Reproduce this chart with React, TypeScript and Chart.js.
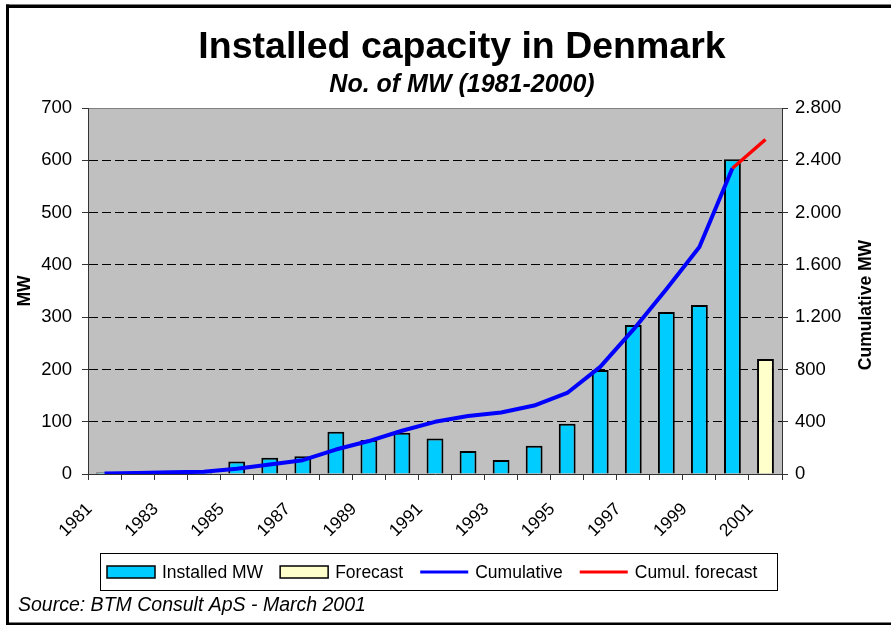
import React, { useEffect, useRef } from "react";
import { Chart, registerables } from "chart.js";

Chart.register(...registerables);

const years = ["1981", "1982", "1983", "1984", "1985", "1986", "1987", "1988", "1989", "1990", "1991", "1992", "1993", "1994", "1995", "1996", "1997", "1998", "1999", "2000", "2001"];
const installedMW = [3, 5, 5, 4, 24, 31, 34, 81, 65, 79, 68, 44, 27, 54, 96, 199, 285, 310, 323, 602, null];
const forecastMW = [null, null, null, null, null, null, null, null, null, null, null, null, null, null, null, null, null, null, null, null, 220];
const cumulativeMW = [3, 8, 13, 17, 41, 72, 106, 187, 252, 331, 399, 443, 470, 524, 620, 819, 1104, 1414, 1737, 2339, null];
const cumulForecastMW = [null, null, null, null, null, null, null, null, null, null, null, null, null, null, null, null, null, null, null, 2339, 2559];
const leftAxisMax = 700;
const leftAxisStep = 100;
const rightAxisMax = 2800;
const rightAxisStep = 400;

const titleText = "Installed capacity in Denmark";
const subtitleText = "No. of MW (1981-2000)";
const sourceText = "Source: BTM Consult ApS - March 2001";
const leftAxisTitle = "MW";
const rightAxisTitle = "Cumulative MW";

const FONT = '"Liberation Sans", Arial, Helvetica, sans-serif';
const W = 891;
const H = 625;

function fmtThousands(v: number): string {
  return String(v).replace(/\B(?=(\d{3})+(?!\d))/g, ".");
}

const decorPlugin = {
  id: "decor",
  beforeDraw(chart: any) {
    const { ctx, chartArea } = chart;
    ctx.save();
    ctx.fillStyle = "#FFFFFF";
    ctx.fillRect(0, 0, chart.width, chart.height);
    ctx.fillStyle = "#C0C0C0";
    ctx.fillRect(chartArea.left, chartArea.top, chartArea.right - chartArea.left, chartArea.bottom - chartArea.top);
    ctx.strokeStyle = "#808080";
    ctx.lineWidth = 1;
    ctx.beginPath();
    ctx.moveTo(chartArea.left, chartArea.top + 0.5);
    ctx.lineTo(chartArea.right, chartArea.top + 0.5);
    ctx.stroke();
    ctx.restore();
  },
  afterDraw(chart: any) {
    const { ctx, chartArea } = chart;
    ctx.save();
    // frame (cropped on the right)
    ctx.fillStyle = "#000";
    ctx.fillRect(6, 4.5, 3, H);
    ctx.fillRect(6, 4.5, W, 3.5);
    ctx.fillRect(6, 622.5, W, 3);

    // title + subtitle
    ctx.fillStyle = "#000";
    ctx.textAlign = "center";
    ctx.textBaseline = "alphabetic";
    ctx.font = `bold 37.5px ${FONT}`;
    ctx.fillText(titleText, 462, 58);
    ctx.font = `italic bold 25px ${FONT}`;
    ctx.fillText(subtitleText, 462, 92);

    // right axis title (reads bottom to top)
    ctx.save();
    ctx.translate(866, (chartArea.top + chartArea.bottom) / 2 + 14);
    ctx.rotate(-Math.PI / 2);
    ctx.font = `bold 17.5px ${FONT}`;
    ctx.textAlign = "center";
    ctx.textBaseline = "middle";
    ctx.fillText(rightAxisTitle, 0, 0);
    ctx.restore();

    // legend
    const boxL = 100.5, boxT = 553.5, boxW = 677, boxH = 37;
    ctx.strokeStyle = "#000";
    ctx.lineWidth = 1;
    ctx.strokeRect(boxL, boxT, boxW, boxH);
    const order = [2, 3, 1, 0];
    const cy = boxT + boxH / 2;
    let x = 107;
    ctx.font = `17.5px ${FONT}`;
    ctx.textAlign = "left";
    ctx.textBaseline = "middle";
    for (const idx of order) {
      const ds: any = chart.data.datasets[idx];
      const sw = 48;
      if (ds.type === "bar") {
        ctx.fillStyle = ds.backgroundColor;
        ctx.fillRect(x, cy - 6, sw, 12);
        ctx.strokeStyle = "#000";
        ctx.lineWidth = 1.5;
        ctx.strokeRect(x, cy - 6, sw, 12);
      } else {
        ctx.strokeStyle = ds.borderColor;
        ctx.lineWidth = 3;
        ctx.beginPath();
        ctx.moveTo(x, cy);
        ctx.lineTo(x + sw, cy);
        ctx.stroke();
      }
      x += sw + 7;
      ctx.fillStyle = "#000";
      ctx.fillText(ds.label, x, cy + 1);
      x += ctx.measureText(ds.label).width + 17;
    }

    // source
    ctx.font = `italic 19.5px ${FONT}`;
    ctx.textAlign = "left";
    ctx.textBaseline = "alphabetic";
    ctx.fillText(sourceText, 18, 611);
    ctx.restore();
  },
};

export default function App() {
  const canvasRef = useRef<HTMLCanvasElement | null>(null);

  useEffect(() => {
    const canvas = canvasRef.current;
    if (!canvas) return;
    Chart.defaults.font.family = FONT;
    Chart.defaults.color = "#000";
    const chart = new Chart(canvas, {
      type: "bar",
      data: {
        labels: years,
        datasets: [
          {
            type: "line",
            label: "Cumul. forecast",
            data: cumulForecastMW,
            yAxisID: "y1",
            borderColor: "#FF0000",
            backgroundColor: "#FF0000",
            borderWidth: 3.5,
            pointRadius: 0,
            tension: 0,
            order: 0,
            borderJoinStyle: "round",
          } as any,
          {
            type: "line",
            label: "Cumulative",
            data: cumulativeMW,
            yAxisID: "y1",
            borderColor: "#0000FF",
            backgroundColor: "#0000FF",
            borderWidth: 4,
            pointRadius: 0,
            tension: 0,
            order: 1,
            borderJoinStyle: "round",
          } as any,
          {
            type: "bar",
            label: "Installed MW",
            data: installedMW,
            yAxisID: "y",
            backgroundColor: "#00CCFF",
            borderColor: "#000000",
            borderWidth: 2,
            grouped: false,
            barPercentage: 0.51,
            categoryPercentage: 1,
            order: 2,
          } as any,
          {
            type: "bar",
            label: "Forecast",
            data: forecastMW,
            yAxisID: "y",
            backgroundColor: "#FFFFCC",
            borderColor: "#000000",
            borderWidth: 2,
            grouped: false,
            barPercentage: 0.51,
            categoryPercentage: 1,
            order: 3,
          } as any,
        ],
      },
      options: {
        responsive: false,
        animation: false,
        layout: { padding: { left: 10, right: 0, top: 108, bottom: 0 } },
        plugins: {
          legend: { display: false },
          title: { display: false },
          tooltip: { enabled: false },
        },
        scales: {
          x: {
            type: "category",
            offset: true,
            grid: { offset: true, drawOnChartArea: false, tickLength: 6, tickColor: "#333", tickWidth: 1 },
            border: { color: "#333", width: 1 },
            ticks: {
              autoSkip: false,
              maxRotation: 45,
              minRotation: 45,
              color: "#000",
              padding: 19,
              labelOffset: -15,
              font: { size: 17.5 },
              callback: (_v: any, i: number) => (i % 2 === 0 ? years[i] : ""),
            },
            afterFit: (s: any) => {
              s.height = 151;
            },
          },
          y: {
            position: "left",
            min: 0,
            max: leftAxisMax,
            grid: {
              color: (c: any) =>
                c.tick && (c.tick.value === 0 || c.tick.value === leftAxisMax) ? "rgba(0,0,0,0)" : "#000",
              tickColor: "#333",
              tickLength: 6,
              lineWidth: 1,
            },
            border: { color: "#333", width: 1, dash: [9, 4] },
            ticks: { stepSize: leftAxisStep, padding: 10, color: "#000", font: { size: 18.5 } },
            title: {
              display: true,
              text: leftAxisTitle,
              color: "#000",
              font: { size: 17.5, weight: "bold" },
              padding: { top: 5, bottom: 0 },
            },
            afterFit: (s: any) => {
              s.width = 78;
            },
          },
          y1: {
            position: "right",
            min: 0,
            max: rightAxisMax,
            grid: { drawOnChartArea: false, tickColor: "#333", tickLength: 6 },
            border: { color: "#333", width: 1 },
            ticks: {
              stepSize: rightAxisStep,
              padding: 7,
              color: "#000",
              font: { size: 18.5 },
              callback: (v: any) => fmtThousands(Number(v)),
            },
            title: { display: false },
            afterFit: (s: any) => {
              s.width = W - 782;
            },
          },
        },
      } as any,
      plugins: [decorPlugin],
    });
    return () => chart.destroy();
  }, []);

  return (
    <div style={{ position: "absolute", left: 0, top: 0, width: W, height: H, background: "#fff" }}>
      <canvas ref={canvasRef} width={W} height={H} style={{ display: "block" }} />
    </div>
  );
}
